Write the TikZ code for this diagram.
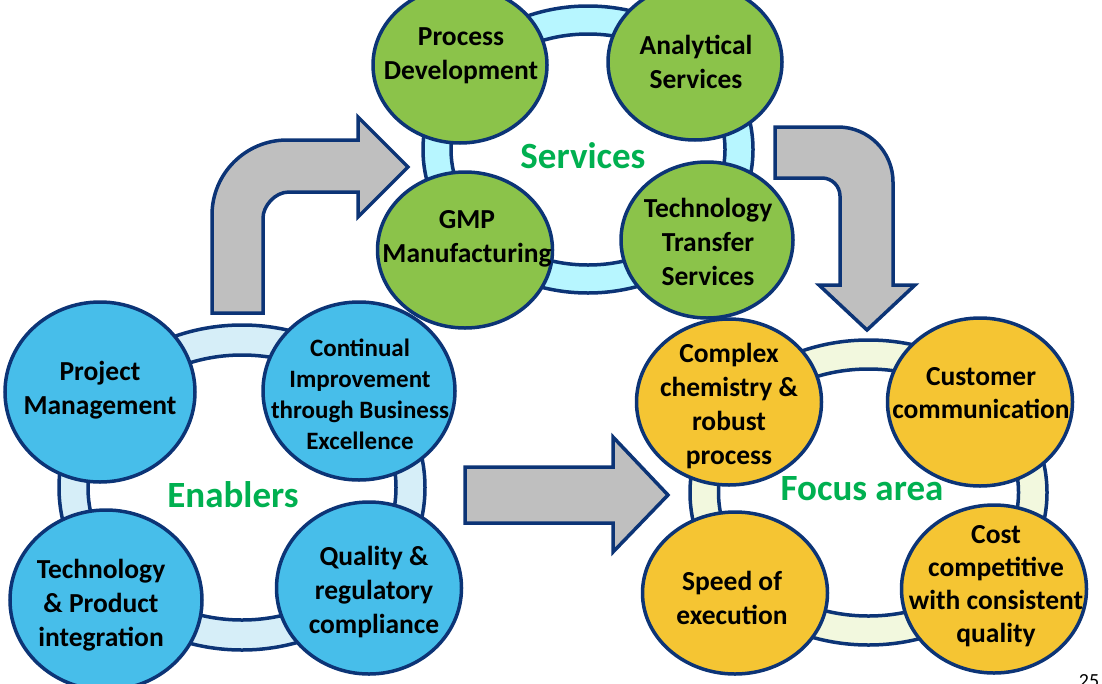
\documentclass[tikz,border=0pt]{standalone}
\usepackage{fontspec}
\setmainfont{Carlito}
\usetikzlibrary{shapes.geometric}
\definecolor{navy}{RGB}{12,52,118}
\definecolor{ringS}{RGB}{183,246,255}
\definecolor{ringE}{RGB}{214,238,248}
\definecolor{ringF}{RGB}{242,248,222}
\definecolor{cGreen}{RGB}{139,195,74}
\definecolor{cBlue}{RGB}{71,190,234}
\definecolor{cYellow}{RGB}{245,197,51}
\definecolor{lblGreen}{RGB}{0,176,80}
\definecolor{arrGrey}{RGB}{191,191,191}
\begin{document}
\begin{tikzpicture}[x=1pt,y=-1pt,
  ringsty/.style={draw=navy,line width=3.5pt,even odd rule},
  circ/.style={ellipse,draw=navy,line width=3.5pt,inner sep=0pt},
  txt/.style={align=center,font=\fontsize{27.5}{34}\selectfont\bfseries,text=black},
  txtsm/.style={align=center,font=\fontsize{25}{31}\selectfont\bfseries,text=black},
  txtmd/.style={align=center,font=\fontsize{27.5}{33}\selectfont\bfseries,text=black},
  lbl/.style={font=\fontsize{37}{40}\selectfont\bfseries,text=lblGreen},
  bigarrow/.style={draw=navy,line width=3.5pt,fill=arrGrey,line join=miter}]
\useasboundingbox (0,0) rectangle (1102,683);
% rings
\path[ringsty,fill=ringS] (588,149.5) ellipse [x radius=165, y radius=143.5]
   (588,149.5) ellipse [x radius=137, y radius=115.5];
\path[ringsty,fill=ringE] (242,487.5) ellipse [x radius=183, y radius=162.5]
   (242,487.5) ellipse [x radius=154, y radius=132.5];
\path[ringsty,fill=ringF] (868.5,492.5) ellipse [x radius=178.5, y radius=152.5]
   (868.5,492.5) ellipse [x radius=150, y radius=123.5];
% arrows
\draw[bigarrow] (212,313) -- (212,215) .. controls (212,173.6) and (245.6,140) .. (287,140)
  -- (358,140) -- (358,117) -- (408,167) -- (358,217) -- (358,192) -- (289,192)
  .. controls (274.6,192) and (263,206.4) .. (263,218) -- (263,313) -- cycle;
\draw[bigarrow] (775,127) -- (838,127) .. controls (868.4,127) and (893,151.6) .. (893,182)
  -- (893,285) -- (915,285) -- (867,330) -- (819,285) -- (840,285) -- (840,196)
  .. controls (840,186.1) and (831.9,178) .. (822,178) -- (775,178) -- cycle;
\draw[bigarrow] (465,467) -- (613,467) -- (613,437) -- (668,495) -- (613,552) -- (613,523) -- (465,523) -- cycle;
% services
\node[circ,fill=cGreen,minimum width=174pt,minimum height=156pt] (pd) at (460,65) {};
\node[circ,fill=cGreen,minimum width=174pt,minimum height=156pt] (as) at (695,62) {};
\node[circ,fill=cGreen,minimum width=175pt,minimum height=156pt] (gmp) at (465,250) {};
\node[circ,fill=cGreen,minimum width=172pt,minimum height=156pt] (tt) at (707,240) {};
\node[txt] (pdT) at (461,56) {Process\\Development};
\node[txt] (asT) at (696,62) {Analytical\\Services};
\node[txt] (gmpT) at (467,239) {GMP\\Manufacturing};
\node[txt] (ttT) at (708,242) {Technology\\Transfer\\Services};
\node[lbl] (servL) at (583,156) {Services};
% enablers
\node[circ,fill=cBlue,minimum width=190pt,minimum height=180pt] (pm) at (100,392) {};
\node[circ,fill=cBlue,minimum width=192pt,minimum height=178pt] (ci) at (359,391) {};
\node[circ,fill=cBlue,minimum width=192pt,minimum height=180pt] (tp) at (106,600) {};
\node[circ,fill=cBlue,minimum width=185pt,minimum height=172pt] (qr) at (369,588) {};
\node[txt] (pmT) at (100,390) {Project\\Management};
\node[txtsm] (ciT) at (360,394) {Continual\\Improvement\\through Business\\Excellence};
\node[txt] (tpT) at (101,605) {Technology\\\& Product\\integration};
\node[txt] (qrT) at (374,592) {Quality \&\\regulatory\\compliance};
\node[lbl] (enL) at (233,495) {Enablers};
% focus area
\node[circ,fill=cYellow,minimum width=185pt,minimum height=166pt] (cc) at (729,402) {};
\node[circ,fill=cYellow,minimum width=185pt,minimum height=168pt] (cu) at (980,402) {};
\node[circ,fill=cYellow,minimum width=185pt,minimum height=162pt] (se) at (735,593) {};
\node[circ,fill=cYellow,minimum width=185pt,minimum height=168pt] (co) at (994,589) {};
\node[txt] (ccT) at (729,406) {Complex\\chemistry \&\\robust\\process};
\node[txtmd] (cuT) at (981,393) {Customer\\communication};
\node[txt] (seT) at (732,598) {Speed of\\execution};
\node[txtmd] (coT) at (996,586) {Cost\\competitive\\with consistent\\quality};
\node[lbl] (faL) at (862,489) {Focus area};
\node[anchor=base,font=\fontsize{20}{22}\selectfont] (pg) at (1089,687) {25};
\end{tikzpicture}
\end{document}
